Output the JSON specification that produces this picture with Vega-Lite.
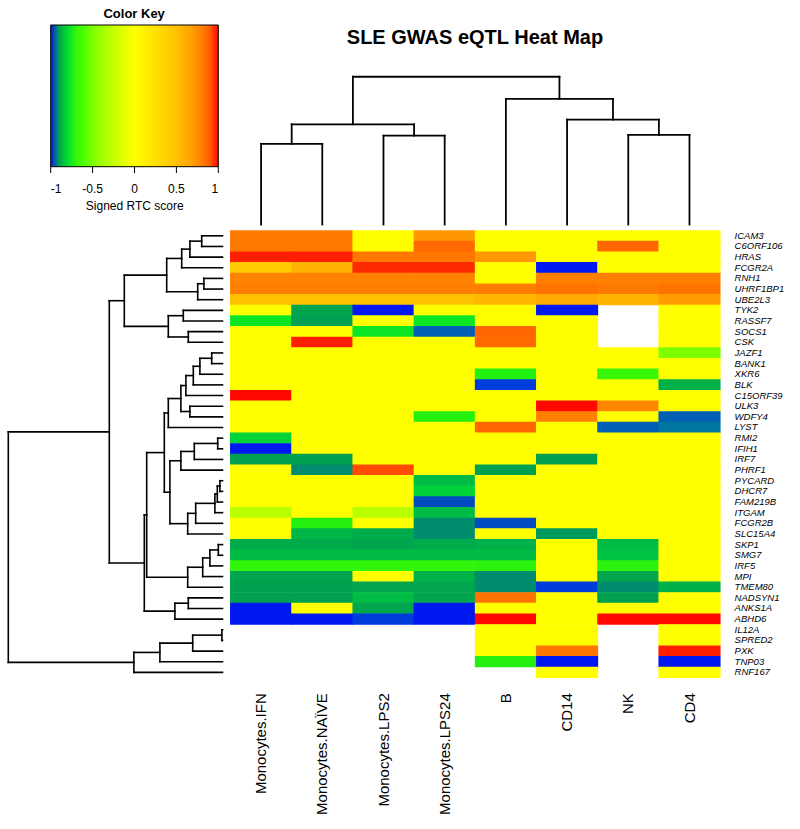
{
  "$schema": "https://vega.github.io/schema/vega-lite/v6.json",
  "width": 800,
  "height": 829,
  "autosize": {"type": "none"},
  "padding": 0,
  "background": "white",
  "config": {"view": {"stroke": null}, "font": "Liberation Sans"},
  "resolve": {"scale": {"x": "independent", "y": "independent", "color": "independent"}},
  "layer": [
    {
      "data": {"values": [
        {"g":"ICAM3","c":"Monocytes.IFN","v":0.82},{"g":"ICAM3","c":"Monocytes.NAÏVE","v":0.82},{"g":"ICAM3","c":"Monocytes.LPS2","v":0},{"g":"ICAM3","c":"Monocytes.LPS24","v":0.72},{"g":"ICAM3","c":"B","v":0},{"g":"ICAM3","c":"CD14","v":0},{"g":"ICAM3","c":"NK","v":0},{"g":"ICAM3","c":"CD4","v":0},
        {"g":"C6ORF106","c":"Monocytes.IFN","v":0.82},{"g":"C6ORF106","c":"Monocytes.NAÏVE","v":0.82},{"g":"C6ORF106","c":"Monocytes.LPS2","v":0},{"g":"C6ORF106","c":"Monocytes.LPS24","v":0.87},{"g":"C6ORF106","c":"B","v":0},{"g":"C6ORF106","c":"CD14","v":0},{"g":"C6ORF106","c":"NK","v":0.88},{"g":"C6ORF106","c":"CD4","v":0},
        {"g":"HRAS","c":"Monocytes.IFN","v":0.98},{"g":"HRAS","c":"Monocytes.NAÏVE","v":0.98},{"g":"HRAS","c":"Monocytes.LPS2","v":0.83},{"g":"HRAS","c":"Monocytes.LPS24","v":0.83},{"g":"HRAS","c":"B","v":0.72},{"g":"HRAS","c":"CD14","v":0},{"g":"HRAS","c":"NK","v":0},{"g":"HRAS","c":"CD4","v":0},
        {"g":"FCGR2A","c":"Monocytes.IFN","v":0.42},{"g":"FCGR2A","c":"Monocytes.NAÏVE","v":0.57},{"g":"FCGR2A","c":"Monocytes.LPS2","v":0.96},{"g":"FCGR2A","c":"Monocytes.LPS24","v":0.96},{"g":"FCGR2A","c":"B","v":0},{"g":"FCGR2A","c":"CD14","v":-1},{"g":"FCGR2A","c":"NK","v":0},{"g":"FCGR2A","c":"CD4","v":0},
        {"g":"RNH1","c":"Monocytes.IFN","v":0.79},{"g":"RNH1","c":"Monocytes.NAÏVE","v":0.79},{"g":"RNH1","c":"Monocytes.LPS2","v":0.79},{"g":"RNH1","c":"Monocytes.LPS24","v":0.79},{"g":"RNH1","c":"B","v":0},{"g":"RNH1","c":"CD14","v":0.8},{"g":"RNH1","c":"NK","v":0.8},{"g":"RNH1","c":"CD4","v":0.8},
        {"g":"UHRF1BP1","c":"Monocytes.IFN","v":0.8},{"g":"UHRF1BP1","c":"Monocytes.NAÏVE","v":0.8},{"g":"UHRF1BP1","c":"Monocytes.LPS2","v":0.8},{"g":"UHRF1BP1","c":"Monocytes.LPS24","v":0.8},{"g":"UHRF1BP1","c":"B","v":0.81},{"g":"UHRF1BP1","c":"CD14","v":0.84},{"g":"UHRF1BP1","c":"NK","v":0.82},{"g":"UHRF1BP1","c":"CD4","v":0.84},
        {"g":"UBE2L3","c":"Monocytes.IFN","v":0.5},{"g":"UBE2L3","c":"Monocytes.NAÏVE","v":0.5},{"g":"UBE2L3","c":"Monocytes.LPS2","v":0.5},{"g":"UBE2L3","c":"Monocytes.LPS24","v":0.5},{"g":"UBE2L3","c":"B","v":0.55},{"g":"UBE2L3","c":"CD14","v":0.62},{"g":"UBE2L3","c":"NK","v":0.56},{"g":"UBE2L3","c":"CD4","v":0.7},
        {"g":"TYK2","c":"Monocytes.IFN","v":0},{"g":"TYK2","c":"Monocytes.NAÏVE","v":-0.9},{"g":"TYK2","c":"Monocytes.LPS2","v":-1},{"g":"TYK2","c":"Monocytes.LPS24","v":0},{"g":"TYK2","c":"B","v":0},{"g":"TYK2","c":"CD14","v":-1},{"g":"TYK2","c":"CD4","v":0},
        {"g":"RASSF7","c":"Monocytes.IFN","v":-0.78},{"g":"RASSF7","c":"Monocytes.NAÏVE","v":-0.91},{"g":"RASSF7","c":"Monocytes.LPS2","v":0},{"g":"RASSF7","c":"Monocytes.LPS24","v":-0.78},{"g":"RASSF7","c":"B","v":0},{"g":"RASSF7","c":"CD14","v":0},{"g":"RASSF7","c":"CD4","v":0},
        {"g":"SOCS1","c":"Monocytes.IFN","v":0},{"g":"SOCS1","c":"Monocytes.NAÏVE","v":0},{"g":"SOCS1","c":"Monocytes.LPS2","v":-0.78},{"g":"SOCS1","c":"Monocytes.LPS24","v":-0.97},{"g":"SOCS1","c":"B","v":0.88},{"g":"SOCS1","c":"CD14","v":0},{"g":"SOCS1","c":"CD4","v":0},
        {"g":"CSK","c":"Monocytes.IFN","v":0},{"g":"CSK","c":"Monocytes.NAÏVE","v":0.98},{"g":"CSK","c":"Monocytes.LPS2","v":0},{"g":"CSK","c":"Monocytes.LPS24","v":0},{"g":"CSK","c":"B","v":0.87},{"g":"CSK","c":"CD14","v":0},{"g":"CSK","c":"CD4","v":0},
        {"g":"JAZF1","c":"Monocytes.IFN","v":0},{"g":"JAZF1","c":"Monocytes.NAÏVE","v":0},{"g":"JAZF1","c":"Monocytes.LPS2","v":0},{"g":"JAZF1","c":"Monocytes.LPS24","v":0},{"g":"JAZF1","c":"B","v":0},{"g":"JAZF1","c":"CD14","v":0},{"g":"JAZF1","c":"NK","v":0},{"g":"JAZF1","c":"CD4","v":-0.5},
        {"g":"BANK1","c":"Monocytes.IFN","v":0},{"g":"BANK1","c":"Monocytes.NAÏVE","v":0},{"g":"BANK1","c":"Monocytes.LPS2","v":0},{"g":"BANK1","c":"Monocytes.LPS24","v":0},{"g":"BANK1","c":"B","v":0},{"g":"BANK1","c":"CD14","v":0},{"g":"BANK1","c":"NK","v":0},{"g":"BANK1","c":"CD4","v":0},
        {"g":"XKR6","c":"Monocytes.IFN","v":0},{"g":"XKR6","c":"Monocytes.NAÏVE","v":0},{"g":"XKR6","c":"Monocytes.LPS2","v":0},{"g":"XKR6","c":"Monocytes.LPS24","v":0},{"g":"XKR6","c":"B","v":-0.74},{"g":"XKR6","c":"CD14","v":0},{"g":"XKR6","c":"NK","v":-0.68},{"g":"XKR6","c":"CD4","v":0},
        {"g":"BLK","c":"Monocytes.IFN","v":0},{"g":"BLK","c":"Monocytes.NAÏVE","v":0},{"g":"BLK","c":"Monocytes.LPS2","v":0},{"g":"BLK","c":"Monocytes.LPS24","v":0},{"g":"BLK","c":"B","v":-0.99},{"g":"BLK","c":"CD14","v":0},{"g":"BLK","c":"NK","v":0},{"g":"BLK","c":"CD4","v":-0.88},
        {"g":"C15ORF39","c":"Monocytes.IFN","v":1},{"g":"C15ORF39","c":"Monocytes.NAÏVE","v":0},{"g":"C15ORF39","c":"Monocytes.LPS2","v":0},{"g":"C15ORF39","c":"Monocytes.LPS24","v":0},{"g":"C15ORF39","c":"B","v":0},{"g":"C15ORF39","c":"CD14","v":0},{"g":"C15ORF39","c":"NK","v":0},{"g":"C15ORF39","c":"CD4","v":0},
        {"g":"ULK3","c":"Monocytes.IFN","v":0},{"g":"ULK3","c":"Monocytes.NAÏVE","v":0},{"g":"ULK3","c":"Monocytes.LPS2","v":0},{"g":"ULK3","c":"Monocytes.LPS24","v":0},{"g":"ULK3","c":"B","v":0},{"g":"ULK3","c":"CD14","v":1},{"g":"ULK3","c":"NK","v":0.78},{"g":"ULK3","c":"CD4","v":0},
        {"g":"WDFY4","c":"Monocytes.IFN","v":0},{"g":"WDFY4","c":"Monocytes.NAÏVE","v":0},{"g":"WDFY4","c":"Monocytes.LPS2","v":0},{"g":"WDFY4","c":"Monocytes.LPS24","v":-0.74},{"g":"WDFY4","c":"B","v":0},{"g":"WDFY4","c":"CD14","v":0.8},{"g":"WDFY4","c":"NK","v":0},{"g":"WDFY4","c":"CD4","v":-0.97},
        {"g":"LYST","c":"Monocytes.IFN","v":0},{"g":"LYST","c":"Monocytes.NAÏVE","v":0},{"g":"LYST","c":"Monocytes.LPS2","v":0},{"g":"LYST","c":"Monocytes.LPS24","v":0},{"g":"LYST","c":"B","v":0.88},{"g":"LYST","c":"CD14","v":0},{"g":"LYST","c":"NK","v":-0.97},{"g":"LYST","c":"CD4","v":-0.96},
        {"g":"RMI2","c":"Monocytes.IFN","v":-0.82},{"g":"RMI2","c":"Monocytes.NAÏVE","v":0},{"g":"RMI2","c":"Monocytes.LPS2","v":0},{"g":"RMI2","c":"Monocytes.LPS24","v":0},{"g":"RMI2","c":"B","v":0},{"g":"RMI2","c":"CD14","v":0},{"g":"RMI2","c":"NK","v":0},{"g":"RMI2","c":"CD4","v":0},
        {"g":"IFIH1","c":"Monocytes.IFN","v":-1},{"g":"IFIH1","c":"Monocytes.NAÏVE","v":0},{"g":"IFIH1","c":"Monocytes.LPS2","v":0},{"g":"IFIH1","c":"Monocytes.LPS24","v":0},{"g":"IFIH1","c":"B","v":0},{"g":"IFIH1","c":"CD14","v":0},{"g":"IFIH1","c":"NK","v":0},{"g":"IFIH1","c":"CD4","v":0},
        {"g":"IRF7","c":"Monocytes.IFN","v":-0.91},{"g":"IRF7","c":"Monocytes.NAÏVE","v":-0.91},{"g":"IRF7","c":"Monocytes.LPS2","v":0},{"g":"IRF7","c":"Monocytes.LPS24","v":0},{"g":"IRF7","c":"B","v":0},{"g":"IRF7","c":"CD14","v":-0.91},{"g":"IRF7","c":"NK","v":0},{"g":"IRF7","c":"CD4","v":0},
        {"g":"PHRF1","c":"Monocytes.IFN","v":0},{"g":"PHRF1","c":"Monocytes.NAÏVE","v":-0.94},{"g":"PHRF1","c":"Monocytes.LPS2","v":0.92},{"g":"PHRF1","c":"Monocytes.LPS24","v":0},{"g":"PHRF1","c":"B","v":-0.91},{"g":"PHRF1","c":"CD14","v":0},{"g":"PHRF1","c":"NK","v":0},{"g":"PHRF1","c":"CD4","v":0},
        {"g":"PYCARD","c":"Monocytes.IFN","v":0},{"g":"PYCARD","c":"Monocytes.NAÏVE","v":0},{"g":"PYCARD","c":"Monocytes.LPS2","v":0},{"g":"PYCARD","c":"Monocytes.LPS24","v":-0.86},{"g":"PYCARD","c":"B","v":0},{"g":"PYCARD","c":"CD14","v":0},{"g":"PYCARD","c":"NK","v":0},{"g":"PYCARD","c":"CD4","v":0},
        {"g":"DHCR7","c":"Monocytes.IFN","v":0},{"g":"DHCR7","c":"Monocytes.NAÏVE","v":0},{"g":"DHCR7","c":"Monocytes.LPS2","v":0},{"g":"DHCR7","c":"Monocytes.LPS24","v":-0.82},{"g":"DHCR7","c":"B","v":0},{"g":"DHCR7","c":"CD14","v":0},{"g":"DHCR7","c":"NK","v":0},{"g":"DHCR7","c":"CD4","v":0},
        {"g":"FAM219B","c":"Monocytes.IFN","v":0},{"g":"FAM219B","c":"Monocytes.NAÏVE","v":0},{"g":"FAM219B","c":"Monocytes.LPS2","v":0},{"g":"FAM219B","c":"Monocytes.LPS24","v":-0.98},{"g":"FAM219B","c":"B","v":0},{"g":"FAM219B","c":"CD14","v":0},{"g":"FAM219B","c":"NK","v":0},{"g":"FAM219B","c":"CD4","v":0},
        {"g":"ITGAM","c":"Monocytes.IFN","v":-0.3},{"g":"ITGAM","c":"Monocytes.NAÏVE","v":0},{"g":"ITGAM","c":"Monocytes.LPS2","v":-0.3},{"g":"ITGAM","c":"Monocytes.LPS24","v":-0.86},{"g":"ITGAM","c":"B","v":0},{"g":"ITGAM","c":"CD14","v":0},{"g":"ITGAM","c":"NK","v":0},{"g":"ITGAM","c":"CD4","v":0},
        {"g":"FCGR2B","c":"Monocytes.IFN","v":0},{"g":"FCGR2B","c":"Monocytes.NAÏVE","v":-0.74},{"g":"FCGR2B","c":"Monocytes.LPS2","v":0},{"g":"FCGR2B","c":"Monocytes.LPS24","v":-0.94},{"g":"FCGR2B","c":"B","v":-0.98},{"g":"FCGR2B","c":"CD14","v":0},{"g":"FCGR2B","c":"NK","v":0},{"g":"FCGR2B","c":"CD4","v":0},
        {"g":"SLC15A4","c":"Monocytes.IFN","v":0},{"g":"SLC15A4","c":"Monocytes.NAÏVE","v":-0.87},{"g":"SLC15A4","c":"Monocytes.LPS2","v":-0.89},{"g":"SLC15A4","c":"Monocytes.LPS24","v":-0.94},{"g":"SLC15A4","c":"B","v":0},{"g":"SLC15A4","c":"CD14","v":-0.92},{"g":"SLC15A4","c":"NK","v":0},{"g":"SLC15A4","c":"CD4","v":0},
        {"g":"SKP1","c":"Monocytes.IFN","v":-0.89},{"g":"SKP1","c":"Monocytes.NAÏVE","v":-0.89},{"g":"SKP1","c":"Monocytes.LPS2","v":-0.9},{"g":"SKP1","c":"Monocytes.LPS24","v":-0.89},{"g":"SKP1","c":"B","v":-0.88},{"g":"SKP1","c":"CD14","v":0},{"g":"SKP1","c":"NK","v":-0.86},{"g":"SKP1","c":"CD4","v":0},
        {"g":"SMG7","c":"Monocytes.IFN","v":-0.86},{"g":"SMG7","c":"Monocytes.NAÏVE","v":-0.86},{"g":"SMG7","c":"Monocytes.LPS2","v":-0.86},{"g":"SMG7","c":"Monocytes.LPS24","v":-0.86},{"g":"SMG7","c":"B","v":-0.86},{"g":"SMG7","c":"CD14","v":0},{"g":"SMG7","c":"NK","v":-0.85},{"g":"SMG7","c":"CD4","v":0},
        {"g":"IRF5","c":"Monocytes.IFN","v":-0.7},{"g":"IRF5","c":"Monocytes.NAÏVE","v":-0.7},{"g":"IRF5","c":"Monocytes.LPS2","v":-0.7},{"g":"IRF5","c":"Monocytes.LPS24","v":-0.7},{"g":"IRF5","c":"B","v":-0.72},{"g":"IRF5","c":"CD14","v":0},{"g":"IRF5","c":"NK","v":-0.72},{"g":"IRF5","c":"CD4","v":0},
        {"g":"MPI","c":"Monocytes.IFN","v":-0.9},{"g":"MPI","c":"Monocytes.NAÏVE","v":-0.9},{"g":"MPI","c":"Monocytes.LPS2","v":0},{"g":"MPI","c":"Monocytes.LPS24","v":-0.88},{"g":"MPI","c":"B","v":-0.94},{"g":"MPI","c":"CD14","v":0},{"g":"MPI","c":"NK","v":-0.9},{"g":"MPI","c":"CD4","v":0},
        {"g":"TMEM80","c":"Monocytes.IFN","v":-0.91},{"g":"TMEM80","c":"Monocytes.NAÏVE","v":-0.91},{"g":"TMEM80","c":"Monocytes.LPS2","v":-0.9},{"g":"TMEM80","c":"Monocytes.LPS24","v":-0.9},{"g":"TMEM80","c":"B","v":-0.94},{"g":"TMEM80","c":"CD14","v":-0.99},{"g":"TMEM80","c":"NK","v":-0.94},{"g":"TMEM80","c":"CD4","v":-0.88},
        {"g":"NADSYN1","c":"Monocytes.IFN","v":-0.91},{"g":"NADSYN1","c":"Monocytes.NAÏVE","v":-0.91},{"g":"NADSYN1","c":"Monocytes.LPS2","v":-0.86},{"g":"NADSYN1","c":"Monocytes.LPS24","v":-0.9},{"g":"NADSYN1","c":"B","v":0.84},{"g":"NADSYN1","c":"CD14","v":0},{"g":"NADSYN1","c":"NK","v":-0.91},{"g":"NADSYN1","c":"CD4","v":0},
        {"g":"ANKS1A","c":"Monocytes.IFN","v":-1},{"g":"ANKS1A","c":"Monocytes.NAÏVE","v":0},{"g":"ANKS1A","c":"Monocytes.LPS2","v":-0.9},{"g":"ANKS1A","c":"Monocytes.LPS24","v":-1},{"g":"ANKS1A","c":"B","v":0},{"g":"ANKS1A","c":"CD14","v":0},{"g":"ANKS1A","c":"NK","v":0},{"g":"ANKS1A","c":"CD4","v":0},
        {"g":"ABHD6","c":"Monocytes.IFN","v":-1},{"g":"ABHD6","c":"Monocytes.NAÏVE","v":-1},{"g":"ABHD6","c":"Monocytes.LPS2","v":-0.99},{"g":"ABHD6","c":"Monocytes.LPS24","v":-1},{"g":"ABHD6","c":"B","v":1},{"g":"ABHD6","c":"CD14","v":0},{"g":"ABHD6","c":"NK","v":1},{"g":"ABHD6","c":"CD4","v":1},
        {"g":"IL12A","c":"B","v":0},{"g":"IL12A","c":"CD14","v":0},{"g":"IL12A","c":"CD4","v":0},
        {"g":"SPRED2","c":"B","v":0},{"g":"SPRED2","c":"CD14","v":0},{"g":"SPRED2","c":"CD4","v":0},
        {"g":"PXK","c":"B","v":0},{"g":"PXK","c":"CD14","v":0.83},{"g":"PXK","c":"CD4","v":0.98},
        {"g":"TNP03","c":"B","v":-0.74},{"g":"TNP03","c":"CD14","v":-1},{"g":"TNP03","c":"CD4","v":-1},
        {"g":"RNF167","c":"CD14","v":0},{"g":"RNF167","c":"CD4","v":0}
      ]},
      "mark": {"type": "rect", "width": {"band": 1.015}, "height": {"band": 1.06}},
      "encoding": {
        "x": {
          "field": "c", "type": "nominal",
          "scale": {"domain": ["Monocytes.IFN","Monocytes.NAÏVE","Monocytes.LPS2","Monocytes.LPS24","B","CD14","NK","CD4"], "range": [230.5, 720.1], "paddingInner": 0, "paddingOuter": 0},
          "axis": {"orient": "bottom", "offset": -151.3, "title": null, "domain": false, "ticks": false, "labelAngle": -90, "labelAlign": "right", "labelBaseline": "middle", "labelPadding": 15, "labelFontSize": 15, "labelColor": "black", "labelFont": "Liberation Sans"}
        },
        "y": {
          "field": "g", "type": "nominal",
          "scale": {"domain": ["ICAM3","C6ORF106","HRAS","FCGR2A","RNH1","UHRF1BP1","UBE2L3","TYK2","RASSF7","SOCS1","CSK","JAZF1","BANK1","XKR6","BLK","C15ORF39","ULK3","WDFY4","LYST","RMI2","IFIH1","IRF7","PHRF1","PYCARD","DHCR7","FAM219B","ITGAM","FCGR2B","SLC15A4","SKP1","SMG7","IRF5","MPI","TMEM80","NADSYN1","ANKS1A","ABHD6","IL12A","SPRED2","PXK","TNP03","RNF167"], "range": [230.5, 677.7], "paddingInner": 0, "paddingOuter": 0},
          "axis": {"orient": "right", "offset": -79.9, "title": null, "domain": false, "ticks": false, "labelPadding": 14, "labelFontSize": 9.5, "labelFontStyle": "italic", "labelColor": "black", "labelAlign": "left", "labelFont": "Liberation Sans"}
        },
        "color": {
          "field": "v", "type": "quantitative",
          "scale": {
            "domain": [-1, -0.975, -0.945, -0.91, -0.88, -0.84, -0.76, -0.6, -0.3, 0, 0.25, 0.5, 0.72, 0.8, 0.88, 0.95, 1],
            "range": ["#0018f0", "#0050b0", "#008a70", "#00a050", "#00b048", "#00c840", "#18ee10", "#50ff00", "#b8ff00", "#ffff00", "#ffe000", "#ffc000", "#ff9800", "#ff8000", "#ff6600", "#ff3000", "#ff0800"]
          },
          "legend": {
            "type": "gradient",
            "orient": "none", "legendX": 50.7, "legendY": 25, "direction": "horizontal",
            "gradientLength": 167.6, "gradientThickness": 141.7,
            "gradientStrokeColor": "black", "gradientStrokeWidth": 1,
            "values": [-1, -0.5, 0, 0.5, 1], "labelExpr": "'' + datum.value",
            "labelAlign": "center", "labelOffset": 17, "labelFontSize": 12, "labelColor": "black", "labelFont": "Liberation Sans",
            "title": "Signed RTC score", "titleOrient": "bottom", "titleAnchor": "middle", "titleFontSize": 12, "titleFontWeight": "normal", "titleColor": "black", "titlePadding": 6, "titleFont": "Liberation Sans",
            "padding": 0
          }
        }
      }
    },
    {
      "data": {"values": [{"v": -1}, {"v": -0.5}, {"v": 0}, {"v": 0.5}, {"v": 1}]},
      "mark": {"type": "rule", "color": "black", "strokeWidth": 1},
      "encoding": {
        "x": {"field": "v", "type": "quantitative", "scale": {"domain": [-1, 1], "range": [50.7, 218.3], "nice": false, "zero": false}, "axis": null},
        "y": {"datum": 0, "type": "quantitative", "scale": {"domain": [0, 1], "range": [166.7, 173], "nice": false, "zero": false}, "axis": null},
        "y2": {"datum": 1}
      }
    },
    {
      "layer": [
        {
          "data": {"values": [
            {"p":0,"p2":1,"e":5.37,"e2":5.37},{"p":0,"p2":0,"e":0,"e2":5.37},{"p":1,"p2":1,"e":0,"e2":5.37},
            {"p":2,"p2":3,"e":5.92,"e2":5.92},{"p":2,"p2":2,"e":0,"e2":5.92},{"p":3,"p2":3,"e":0,"e2":5.92},
            {"p":0.5,"p2":2.5,"e":6.68,"e2":6.68},{"p":0.5,"p2":0.5,"e":5.37,"e2":6.68},{"p":2.5,"p2":2.5,"e":5.92,"e2":6.68},
            {"p":6,"p2":7,"e":5.97,"e2":5.97},{"p":6,"p2":6,"e":0,"e2":5.97},{"p":7,"p2":7,"e":0,"e2":5.97},
            {"p":5,"p2":6.5,"e":6.99,"e2":6.99},{"p":5,"p2":5,"e":0,"e2":6.99},{"p":6.5,"p2":6.5,"e":5.97,"e2":6.99},
            {"p":4,"p2":5.75,"e":8.37,"e2":8.37},{"p":4,"p2":4,"e":0,"e2":8.37},{"p":5.75,"p2":5.75,"e":6.99,"e2":8.37},
            {"p":1.5,"p2":4.875,"e":9.85,"e2":9.85},{"p":1.5,"p2":1.5,"e":6.68,"e2":9.85},{"p":4.875,"p2":4.875,"e":8.37,"e2":9.85}
          ]},
          "mark": {"type": "rule", "color": "black", "strokeWidth": 1.8, "strokeCap": "square"},
          "encoding": {
            "x": {"field": "p", "type": "quantitative", "scale": {"domain": [-4.266, 8.806], "nice": false, "zero": false}, "axis": null},
            "x2": {"field": "p2"},
            "y": {"field": "e", "type": "quantitative", "scale": {"domain": [-40.3, 14.967], "nice": false, "zero": false}, "axis": null},
            "y2": {"field": "e2"}
          }
        },
        {
          "data": {"values": [{"p": 3.495, "e": 12.033, "label": "SLE GWAS eQTL Heat Map"}]},
          "mark": {"type": "text", "fontSize": 20, "fontWeight": "bold", "align": "center", "baseline": "alphabetic", "color": "black", "font": "Liberation Sans"},
          "encoding": {
            "x": {"field": "p", "type": "quantitative"},
            "y": {"field": "e", "type": "quantitative"},
            "text": {"field": "label"}
          }
        },
        {
          "data": {"values": [{"p": -2.074, "e": 13.79, "label": "Color Key"}]},
          "mark": {"type": "text", "fontSize": 13, "fontWeight": "bold", "align": "center", "baseline": "alphabetic", "color": "black", "font": "Liberation Sans"},
          "encoding": {
            "x": {"field": "p", "type": "quantitative"},
            "y": {"field": "e", "type": "quantitative"},
            "text": {"field": "label"}
          }
        }
      ]
    },
    {
      "data": {"values": [
        {"h":1.04,"h2":1.04,"r":0,"r2":1},{"h":0,"h2":1.04,"r":0,"r2":0},{"h":0,"h2":1.04,"r":1,"r2":1},
        {"h":1.63,"h2":1.63,"r":0.5,"r2":2},{"h":1.04,"h2":1.63,"r":0.5,"r2":0.5},{"h":0,"h2":1.63,"r":2,"r2":2},
        {"h":2.04,"h2":2.04,"r":1.25,"r2":3},{"h":1.63,"h2":2.04,"r":1.25,"r2":1.25},{"h":0,"h2":2.04,"r":3,"r2":3},
        {"h":0.93,"h2":0.93,"r":4,"r2":5},{"h":0,"h2":0.93,"r":4,"r2":4},{"h":0,"h2":0.93,"r":5,"r2":5},
        {"h":1.24,"h2":1.24,"r":4.5,"r2":6},{"h":0.93,"h2":1.24,"r":4.5,"r2":4.5},{"h":0,"h2":1.24,"r":6,"r2":6},
        {"h":2.79,"h2":2.79,"r":2.125,"r2":5.25},{"h":2.04,"h2":2.79,"r":2.125,"r2":2.125},{"h":1.24,"h2":2.79,"r":5.25,"r2":5.25},
        {"h":1.96,"h2":1.96,"r":7,"r2":8},{"h":0,"h2":1.96,"r":7,"r2":7},{"h":0,"h2":1.96,"r":8,"r2":8},
        {"h":1.71,"h2":1.71,"r":9,"r2":10},{"h":0,"h2":1.71,"r":9,"r2":9},{"h":0,"h2":1.71,"r":10,"r2":10},
        {"h":2.71,"h2":2.71,"r":7.5,"r2":9.5},{"h":1.96,"h2":2.71,"r":7.5,"r2":7.5},{"h":1.71,"h2":2.71,"r":9.5,"r2":9.5},
        {"h":4.91,"h2":4.91,"r":3.688,"r2":8.5},{"h":2.79,"h2":4.91,"r":3.688,"r2":3.688},{"h":2.71,"h2":4.91,"r":8.5,"r2":8.5},
        {"h":0.54,"h2":0.54,"r":11,"r2":12},{"h":0,"h2":0.54,"r":11,"r2":11},{"h":0,"h2":0.54,"r":12,"r2":12},
        {"h":1.13,"h2":1.13,"r":11.5,"r2":13},{"h":0.54,"h2":1.13,"r":11.5,"r2":11.5},{"h":0,"h2":1.13,"r":13,"r2":13},
        {"h":1.46,"h2":1.46,"r":12.25,"r2":14},{"h":1.13,"h2":1.46,"r":12.25,"r2":12.25},{"h":0,"h2":1.46,"r":14,"r2":14},
        {"h":1.83,"h2":1.83,"r":13.125,"r2":15},{"h":1.46,"h2":1.83,"r":13.125,"r2":13.125},{"h":0,"h2":1.83,"r":15,"r2":15},
        {"h":1.63,"h2":1.63,"r":16,"r2":17},{"h":0,"h2":1.63,"r":16,"r2":16},{"h":0,"h2":1.63,"r":17,"r2":17},
        {"h":2.08,"h2":2.08,"r":14.063,"r2":16.5},{"h":1.83,"h2":2.08,"r":14.063,"r2":14.063},{"h":1.63,"h2":2.08,"r":16.5,"r2":16.5},
        {"h":2.71,"h2":2.71,"r":15.281,"r2":18},{"h":2.08,"h2":2.71,"r":15.281,"r2":15.281},{"h":0,"h2":2.71,"r":18,"r2":18},
        {"h":0.24,"h2":0.24,"r":19,"r2":20},{"h":0,"h2":0.24,"r":19,"r2":19},{"h":0,"h2":0.24,"r":20,"r2":20},
        {"h":1.41,"h2":1.41,"r":19.5,"r2":21},{"h":0.24,"h2":1.41,"r":19.5,"r2":19.5},{"h":0,"h2":1.41,"r":21,"r2":21},
        {"h":2.08,"h2":2.08,"r":20.25,"r2":22},{"h":1.41,"h2":2.08,"r":20.25,"r2":20.25},{"h":0,"h2":2.08,"r":22,"r2":22},
        {"h":0.13,"h2":0.13,"r":23,"r2":24},{"h":0,"h2":0.13,"r":23,"r2":23},{"h":0,"h2":0.13,"r":24,"r2":24},
        {"h":0.26,"h2":0.26,"r":23.5,"r2":25},{"h":0.13,"h2":0.26,"r":23.5,"r2":23.5},{"h":0,"h2":0.26,"r":25,"r2":25},
        {"h":0.38,"h2":0.38,"r":24.25,"r2":26},{"h":0.26,"h2":0.38,"r":24.25,"r2":24.25},{"h":0,"h2":0.38,"r":26,"r2":26},
        {"h":1.34,"h2":1.34,"r":25.125,"r2":27},{"h":0.38,"h2":1.34,"r":25.125,"r2":25.125},{"h":0,"h2":1.34,"r":27,"r2":27},
        {"h":1.74,"h2":1.74,"r":26.063,"r2":28},{"h":1.34,"h2":1.74,"r":26.063,"r2":26.063},{"h":0,"h2":1.74,"r":28,"r2":28},
        {"h":2.63,"h2":2.63,"r":21.125,"r2":27.031},{"h":2.08,"h2":2.63,"r":21.125,"r2":21.125},{"h":1.74,"h2":2.63,"r":27.031,"r2":27.031},
        {"h":2.91,"h2":2.91,"r":16.641,"r2":24.078},{"h":2.71,"h2":2.91,"r":16.641,"r2":16.641},{"h":2.63,"h2":2.91,"r":24.078,"r2":24.078},
        {"h":0.21,"h2":0.21,"r":29,"r2":30},{"h":0,"h2":0.21,"r":29,"r2":29},{"h":0,"h2":0.21,"r":30,"r2":30},
        {"h":0.63,"h2":0.63,"r":29.5,"r2":31},{"h":0.21,"h2":0.63,"r":29.5,"r2":29.5},{"h":0,"h2":0.63,"r":31,"r2":31},
        {"h":0.99,"h2":0.99,"r":30.25,"r2":32},{"h":0.63,"h2":0.99,"r":30.25,"r2":30.25},{"h":0,"h2":0.99,"r":32,"r2":32},
        {"h":1.74,"h2":1.74,"r":31.125,"r2":33},{"h":0.99,"h2":1.74,"r":31.125,"r2":31.125},{"h":0,"h2":1.74,"r":33,"r2":33},
        {"h":3.79,"h2":3.79,"r":20.359,"r2":32.063},{"h":2.91,"h2":3.79,"r":20.359,"r2":20.359},{"h":1.74,"h2":3.79,"r":32.063,"r2":32.063},
        {"h":1.71,"h2":1.71,"r":34,"r2":35},{"h":0,"h2":1.71,"r":34,"r2":34},{"h":0,"h2":1.71,"r":35,"r2":35},
        {"h":2.38,"h2":2.38,"r":34.5,"r2":36},{"h":1.71,"h2":2.38,"r":34.5,"r2":34.5},{"h":0,"h2":2.38,"r":36,"r2":36},
        {"h":3.91,"h2":3.91,"r":26.211,"r2":35.25},{"h":3.79,"h2":3.91,"r":26.211,"r2":26.211},{"h":2.38,"h2":3.91,"r":35.25,"r2":35.25},
        {"h":5.66,"h2":5.66,"r":6.094,"r2":30.73},{"h":4.91,"h2":5.66,"r":6.094,"r2":6.094},{"h":3.91,"h2":5.66,"r":30.73,"r2":30.73},
        {"h":0.03,"h2":0.03,"r":37,"r2":38},{"h":0,"h2":0.03,"r":37,"r2":37},{"h":0,"h2":0.03,"r":38,"r2":38},
        {"h":1.49,"h2":1.49,"r":37.5,"r2":39},{"h":0.03,"h2":1.49,"r":37.5,"r2":37.5},{"h":0,"h2":1.49,"r":39,"r2":39},
        {"h":3.13,"h2":3.13,"r":38.25,"r2":40},{"h":1.49,"h2":3.13,"r":38.25,"r2":38.25},{"h":0,"h2":3.13,"r":40,"r2":40},
        {"h":4.43,"h2":4.43,"r":39.125,"r2":41},{"h":3.13,"h2":4.43,"r":39.125,"r2":39.125},{"h":0,"h2":4.43,"r":41,"r2":41},
        {"h":10.71,"h2":10.71,"r":18.412,"r2":40.063},{"h":5.66,"h2":10.71,"r":18.412,"r2":18.412},{"h":4.43,"h2":10.71,"r":40.063,"r2":40.063}
      ]},
      "mark": {"type": "rule", "color": "black", "strokeWidth": 1.6, "strokeCap": "square"},
      "encoding": {
        "x": {"field": "h", "type": "quantitative", "scale": {"domain": [-28.875, 11.125], "reverse": true, "nice": false, "zero": false}, "axis": null},
        "x2": {"field": "h2"},
        "y": {"field": "r", "type": "quantitative", "scale": {"domain": [-22.147, 55.708], "reverse": true, "nice": false, "zero": false}, "axis": null},
        "y2": {"field": "r2"}
      }
    }
  ]
}
